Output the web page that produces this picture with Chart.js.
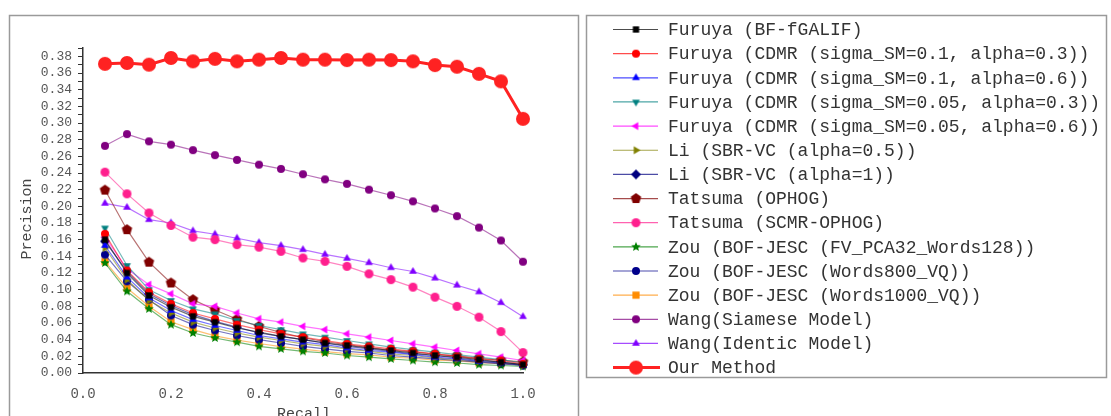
<!DOCTYPE html>
<html>
<head>
<meta charset="utf-8">
<script src="https://cdn.jsdelivr.net/npm/chart.js@4/dist/chart.umd.min.js"></script>
<style>
  html, body { margin: 0; padding: 0; background: #fff; }
  #wrap { width: 1111px; height: 416px; position: relative; }
</style>
</head>
<body>
<div id="wrap"><canvas id="prChart" width="1111" height="416"></canvas></div>
<script>
// recall points (x axis)
const recall = [0.05, 0.10, 0.15, 0.20, 0.25, 0.30, 0.35, 0.40, 0.45, 0.50,
                0.55, 0.60, 0.65, 0.70, 0.75, 0.80, 0.85, 0.90, 0.95, 1.00];

const xTicks = [0.0, 0.2, 0.4, 0.6, 0.8, 1.0];

const seriesNames = [
  "Furuya (BF-fGALIF)",
  "Furuya (CDMR (sigma_SM=0.1, alpha=0.3))",
  "Furuya (CDMR (sigma_SM=0.1, alpha=0.6))",
  "Furuya (CDMR (sigma_SM=0.05, alpha=0.3))",
  "Furuya (CDMR (sigma_SM=0.05, alpha=0.6))",
  "Li (SBR-VC (alpha=0.5))",
  "Li (SBR-VC (alpha=1))",
  "Tatsuma (OPHOG)",
  "Tatsuma (SCMR-OPHOG)",
  "Zou (BOF-JESC (FV_PCA32_Words128))",
  "Zou (BOF-JESC (Words800_VQ))",
  "Zou (BOF-JESC (Words1000_VQ))",
  "Wang(Siamese Model)",
  "Wang(Identic Model)",
  "Our Method"
];

// precision values, one array per method
const furuyaBF     = [0.160,0.120,0.093,0.079,0.068,0.061,0.054,0.049,0.044,0.040,0.036,0.033,0.030,0.027,0.024,0.021,0.019,0.016,0.013,0.010];
const cdmr01_03    = [0.167,0.123,0.097,0.083,0.072,0.065,0.058,0.052,0.047,0.043,0.039,0.035,0.032,0.029,0.026,0.023,0.020,0.017,0.015,0.011];
const cdmr01_06    = [0.153,0.115,0.090,0.075,0.064,0.057,0.051,0.045,0.041,0.037,0.034,0.030,0.027,0.025,0.022,0.019,0.017,0.014,0.012,0.009];
const cdmr005_03   = [0.174,0.129,0.100,0.087,0.077,0.071,0.063,0.057,0.052,0.047,0.043,0.039,0.035,0.031,0.028,0.025,0.022,0.019,0.016,0.012];
const cdmr005_06   = [0.163,0.125,0.106,0.095,0.083,0.080,0.072,0.065,0.061,0.056,0.052,0.047,0.043,0.039,0.035,0.031,0.027,0.023,0.019,0.015];
const liAlpha05    = [0.150,0.112,0.087,0.072,0.061,0.054,0.048,0.043,0.039,0.035,0.032,0.029,0.026,0.023,0.021,0.018,0.016,0.014,0.012,0.009];
const liAlpha1     = [0.158,0.122,0.095,0.081,0.070,0.062,0.055,0.048,0.044,0.040,0.036,0.032,0.029,0.026,0.023,0.021,0.018,0.015,0.013,0.010];
const tatsumaOPHOG = [0.2195,0.172,0.133,0.108,0.088,0.0756,0.0645,0.056,0.0486,0.0425,0.0375,0.034,0.0305,0.0274,0.0253,0.0225,0.0205,0.0177,0.0153,0.0133];
const tatsumaSCMR  = [0.241,0.215,0.192,0.177,0.163,0.160,0.154,0.151,0.146,0.138,0.134,0.128,0.119,0.112,0.103,0.091,0.080,0.067,0.0497,0.0245];
const zouFV        = [0.132,0.098,0.077,0.058,0.048,0.042,0.037,0.032,0.029,0.026,0.024,0.021,0.019,0.017,0.015,0.013,0.012,0.010,0.009,0.008];
const zouW800      = [0.142,0.110,0.088,0.069,0.058,0.051,0.045,0.040,0.036,0.032,0.029,0.026,0.024,0.021,0.019,0.017,0.015,0.013,0.011,0.009];
const zouW1000     = [0.134,0.102,0.080,0.0615,0.052,0.0446,0.0394,0.0354,0.0317,0.0286,0.0257,0.0233,0.0217,0.019,0.0177,0.0155,0.0145,0.0124,0.0112,0.010];
const wangSiamese  = [0.2726,0.2867,0.278,0.274,0.2674,0.2614,0.2557,0.250,0.2449,0.2385,0.2324,0.227,0.220,0.2133,0.206,0.1974,0.1882,0.1745,0.159,0.1335];
const wangIdentic  = [0.2035,0.1987,0.184,0.180,0.1705,0.1665,0.1617,0.1564,0.1528,0.148,0.1423,0.1375,0.1323,0.1263,0.1218,0.1138,0.1053,0.0973,0.0844,0.0676];
const ourMethod    = [0.371,0.372,0.370,0.378,0.374,0.377,0.374,0.376,0.378,0.376,0.376,0.3755,0.376,0.3755,0.374,0.3695,0.3675,0.359,0.350,0.305];

const allValues = [furuyaBF, cdmr01_03, cdmr01_06, cdmr005_03, cdmr005_06, liAlpha05, liAlpha1,
                   tatsumaOPHOG, tatsumaSCMR, zouFV, zouW800, zouW1000, wangSiamese, wangIdentic, ourMethod];

const colors  = ['#000000','#ff0000','#0000ff','#008080','#ff00ff','#808000','#000080',
                 '#800000','#ff1f8e','#008000','#00008b','#ff8c00','#800080','#8000ff','#ff2222'];
const shapes  = ['square','circle','triUp','triDown','triLeft','triRight','diamond',
                 'pentagon','circle','star','circle','square','circle','triUp','circle'];
const sizes   = [3.5, 4, 4.5, 4.5, 4.5, 4.5, 5, 5.5, 4.5, 5, 4, 4, 4, 4.5, 7];

// small canvas marker, used both on the plot and in the legend
function marker(shape, color, r) {
  const s = Math.ceil(r * 2 + 2);
  const c = document.createElement('canvas');
  c.width = s; c.height = s;
  const g = c.getContext('2d');
  const m = s / 2;
  g.fillStyle = color;
  g.beginPath();
  const poly = (n, start, rad) => {
    for (let i = 0; i < n; i++) {
      const a = start + i * 2 * Math.PI / n;
      const px = m + rad * Math.cos(a), py = m + rad * Math.sin(a);
      i ? g.lineTo(px, py) : g.moveTo(px, py);
    }
    g.closePath();
  };
  if (shape === 'square') g.rect(m - r * 0.9, m - r * 0.9, r * 1.8, r * 1.8);
  else if (shape === 'circle') g.arc(m, m, r, 0, Math.PI * 2);
  else if (shape === 'triUp') poly(3, -Math.PI / 2, r);
  else if (shape === 'triDown') poly(3, Math.PI / 2, r);
  else if (shape === 'triLeft') poly(3, Math.PI, r);
  else if (shape === 'triRight') poly(3, 0, r);
  else if (shape === 'diamond') poly(4, -Math.PI / 2, r);
  else if (shape === 'pentagon') poly(5, -Math.PI / 2, r);
  else if (shape === 'star') {
    for (let i = 0; i < 10; i++) {
      const a = -Math.PI / 2 + i * Math.PI / 5;
      const rad = i % 2 ? r * 0.45 : r;
      const px = m + rad * Math.cos(a), py = m + rad * Math.sin(a);
      i ? g.lineTo(px, py) : g.moveTo(px, py);
    }
    g.closePath();
  }
  g.fill();
  return c;
}

function withAlpha(hex, a) {
  const n = parseInt(hex.slice(1), 16);
  return 'rgba(' + (n >> 16) + ',' + ((n >> 8) & 255) + ',' + (n & 255) + ',' + a + ')';
}

const markers = seriesNames.map((_, i) => marker(shapes[i], colors[i], sizes[i]));

const datasets = seriesNames.map((name, i) => {
  const isOurs = i === seriesNames.length - 1;
  return {
    label: name,
    data: recall.map((x, k) => ({ x: x, y: allValues[i][k] })),
    borderColor: isOurs ? colors[i] : withAlpha(colors[i], 0.55),
    borderWidth: isOurs ? 3 : 1.2,
    pointStyle: markers[i],
    pointRadius: sizes[i],
    fill: false,
    tension: 0,
    clip: false,
    order: isOurs ? 0 : 1
  };
});

const FONT = '"Liberation Mono", "DejaVu Sans Mono", monospace';

// panel frames, axis titles and the boxed legend
const framePlugin = {
  id: 'frame',
  beforeDraw(chart) {
    const ctx = chart.ctx;
    ctx.save();
    ctx.fillStyle = '#fff';
    ctx.fillRect(0, 0, chart.width, chart.height);
    ctx.strokeStyle = '#9a9a9a';
    ctx.lineWidth = 1.5;
    ctx.strokeRect(9.5, 15.5, 569, 420);
    ctx.strokeRect(586.5, 15.5, 520, 362);
    ctx.restore();
  },
  afterDraw(chart) {
    const ctx = chart.ctx;
    ctx.save();
    ctx.fillStyle = '#444';
    ctx.font = '15px ' + FONT;
    ctx.textAlign = 'center';
    ctx.textBaseline = 'middle';
    ctx.fillText('Recall', 304, 414);
    ctx.translate(27, 219);
    ctx.rotate(-Math.PI / 2);
    ctx.fillText('Precision', 0, 0);
    ctx.restore();

    ctx.save();
    ctx.font = '18px ' + FONT;
    ctx.textBaseline = 'middle';
    ctx.textAlign = 'left';
    seriesNames.forEach((name, i) => {
      const y = 29.5 + i * 24.15;
      const isOurs = i === seriesNames.length - 1;
      ctx.strokeStyle = isOurs ? colors[i] : withAlpha(colors[i], 0.7);
      ctx.lineWidth = isOurs ? 3 : 1.2;
      ctx.beginPath();
      ctx.moveTo(613, y);
      ctx.lineTo(isOurs ? 660 : 658, y);
      ctx.stroke();
      const mk = markers[i];
      ctx.drawImage(mk, 636 - mk.width / 2, y - mk.height / 2);
      ctx.fillStyle = '#333';
      ctx.fillText(name, 668, y + 1);
    });
    ctx.restore();
  }
};

new Chart(document.getElementById('prChart'), {
  type: 'line',
  data: { datasets: datasets },
  options: {
    responsive: false,
    animation: false,
    layout: { padding: { left: 0, top: 48, right: 588, bottom: 0 } },
    plugins: { legend: { display: false }, tooltip: { enabled: false } },
    scales: {
      x: {
        type: 'linear',
        min: 0, max: 1,
        afterFit(scale) { scale.height = 43; },
        border: { color: '#333', width: 1.5 },
        grid: { display: false, drawOnChartArea: false, drawTicks: true, tickLength: 5, color: '#333' },
        ticks: {
          stepSize: 0.1,
          autoSkip: false,
          maxRotation: 0,
          padding: 8,
          color: '#555',
          font: { family: FONT, size: 14 },
          callback: v => {
            const k = Math.round(v * 10);
            return xTicks.some(t => Math.round(t * 10) === k) ? v.toFixed(1) : '';
          }
        }
      },
      y: {
        min: 0, max: 0.39,
        afterFit(scale) { scale.width = 83; },
        border: { color: '#333', width: 1.5 },
        grid: { display: true, drawOnChartArea: false, drawTicks: true, tickLength: 5, color: '#333' },
        ticks: {
          stepSize: 0.01,
          autoSkip: false,
          padding: 6,
          color: '#555',
          font: { family: FONT, size: 13 },
          callback: v => {
            const k = Math.round(v * 100);
            return k % 2 === 0 ? (k / 100).toFixed(2) : '';
          }
        }
      }
    }
  },
  plugins: [framePlugin]
});
</script>
</body>
</html>
